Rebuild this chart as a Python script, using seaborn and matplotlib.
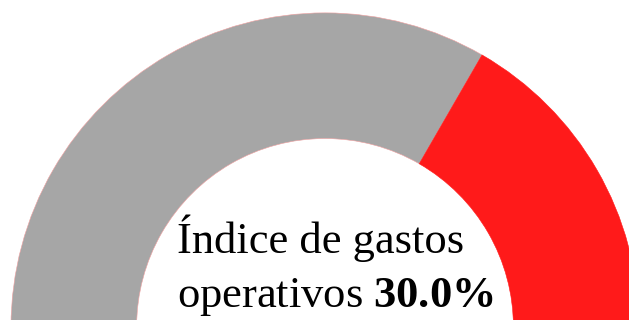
import matplotlib
matplotlib.use("Agg")
import matplotlib.pyplot as plt
import seaborn as sns

# Gauge data
value = 30.0          # operating expense ratio, %
scale_max = 90.0      # top of the gauge scale, %
label_line1 = "Índice de gastos"
label_line2 = "operativos"
colors = ["#a6a6a6", "#ff1a1a"]

sns.set_theme(style="white")
plt.rcParams["font.family"] = ["Liberation Serif", "DejaVu Serif"]
plt.rcParams["mathtext.fontset"] = "custom"
plt.rcParams["mathtext.rm"] = "Liberation Serif"
plt.rcParams["mathtext.bf"] = "Liberation Serif:bold"

fig = plt.figure(figsize=(6.29, 3.2), dpi=100)
ax = fig.add_axes([0, 0, 1, 1])

# Half donut: remaining scale, value, and an invisible lower half
wedges, _ = ax.pie(
    [scale_max - value, value, scale_max],
    colors=[colors[0], colors[1], "none"],
    startangle=180,
    counterclock=False,
    radius=1.0,
    wedgeprops=dict(width=0.4, edgecolor="none", linewidth=0),
)
for w, ec in zip(wedges[:2], ["#f0a0a0", colors[1]]):
    w.set_edgecolor(ec)
    w.set_linewidth(0.4)

ax.set_xlim(-1.035, 0.968)
ax.set_ylim(0.0223, 1.041)
ax.set_aspect("auto")
ax.axis("off")

ax.text(-0.471, 0.236, label_line1, fontsize=32, color="black",
        ha="left", va="baseline")
ax.text(-0.471, 0.064, label_line2 + " $\\mathbf{" + f"{value:.1f}" + "\\%}$",
        fontsize=32, color="black", ha="left", va="baseline")

fig.savefig("out.png", dpi=100)
